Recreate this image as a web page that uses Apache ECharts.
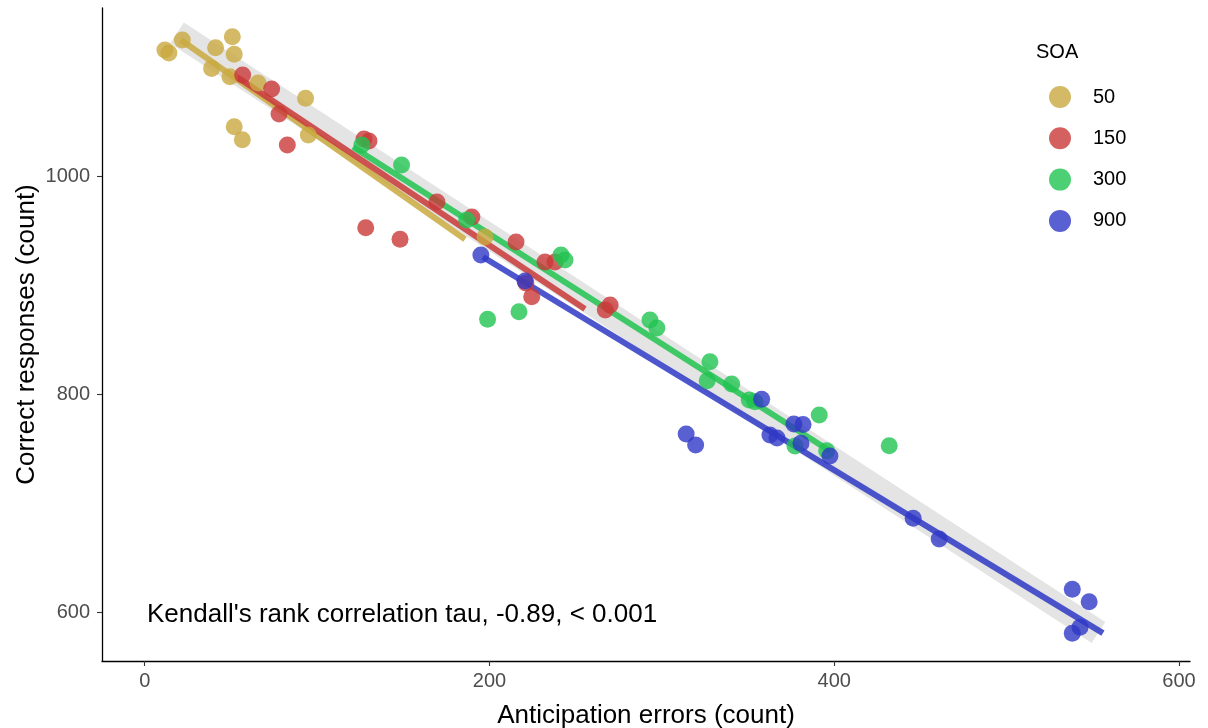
<!DOCTYPE html>
<html>
<head>
<meta charset="utf-8">
<script src="https://cdn.jsdelivr.net/npm/echarts@6/dist/echarts.min.js"></script>
<style>
  html, body { margin: 0; padding: 0; background: #ffffff; }
  #chart { width: 1208px; height: 728px; }
</style>
</head>
<body>
<div id="chart"></div>
<script>
// SOA groups and their colours
const soaLevels = ['50', '150', '300', '900'];
const soaColors = ['#C9A940', '#C93838', '#21C350', '#2F38C6'];

// Anticipation errors (x) and correct responses (y) per participant, by SOA
const errors50  = [11.7, 14.0, 21.8, 41.1, 50.8, 51.9, 38.8, 49.4, 65.7, 93.3, 51.9, 56.6, 94.9, 197.4];
const correct50 = [1116.2, 1113.5, 1125.4, 1118.3, 1128.4, 1112.3, 1099.4, 1091.7, 1086.0, 1071.9, 1045.9, 1033.9, 1038.3, 944.7];

const errors150  = [56.8, 73.6, 77.9, 82.7, 127.2, 130.1, 128.2, 148.1, 169.5, 189.8, 215.4, 232.2, 238.0, 221.1, 224.5, 267.2, 270.0];
const correct150 = [1093.3, 1080.5, 1057.5, 1029.1, 1034.6, 1032.8, 953.2, 942.6, 976.8, 963.0, 940.1, 921.7, 921.7, 902.5, 889.9, 877.7, 882.3];

const errors300  = [126.0, 149.0, 186.8, 241.5, 243.8, 198.9, 217.1, 293.1, 297.1, 327.9, 326.3, 340.5, 350.7, 354.0, 391.3, 377.2, 395.6, 431.9];
const correct300 = [1029.1, 1010.7, 960.3, 928.2, 923.6, 869.2, 876.1, 868.5, 861.2, 830.3, 812.8, 809.8, 795.1, 793.6, 781.4, 752.9, 748.6, 753.2];

const errors900  = [195.0, 220.6, 314.1, 319.6, 357.9, 376.6, 381.9, 362.7, 366.8, 380.7, 397.5, 445.8, 460.9, 538.1, 547.9, 542.6, 538.1];
const correct900 = [928.2, 904.3, 763.9, 753.9, 795.8, 773.1, 772.7, 763.0, 760.3, 755.4, 743.8, 686.6, 667.6, 621.5, 610.1, 586.6, 581.1];

// Linear fits per group (endpoints over each group's range)
const fitX50  = [21.0, 185.8];   const fitY50  = [1125.4, 942.6];
const fitX150 = [53.5, 255.4];   const fitY150 = [1091.5, 878.6];
const fitX300 = [120.8, 397.5];  const fitY300 = [1027.2, 748.3];
const fitX900 = [196.2, 555.9];  const fitY900 = [926.3, 581.3];

// Pooled fit, drawn as a wide grey band behind the group fits
const pooledX = [18.7, 553.3];
const pooledY = [1131.8, 581.8];

// Axis ticks
const xTicks = [0, 200, 400, 600];
const yTicks = [600, 800, 1000];

const statsLabel = "Kendall's rank correlation tau, -0.89, < 0.001";

const pts = [[errors50, correct50], [errors150, correct150], [errors300, correct300], [errors900, correct900]];
const fits = [[fitX50, fitY50], [fitX150, fitY150], [fitX300, fitY300], [fitX900, fitY900]];
const zip = (xs, ys) => xs.map((v, i) => [v, ys[i]]);

const series = [];
series.push({
  type: 'line', name: 'pooled', data: zip(pooledX, pooledY),
  symbol: 'none', silent: true, z: 1,
  lineStyle: { color: '#e4e4e4', width: 25, cap: 'butt' }
});
fits.forEach((f, i) => {
  series.push({
    type: 'line', name: 'fit' + soaLevels[i], data: zip(f[0], f[1]),
    symbol: 'none', silent: true, z: 2,
    lineStyle: { color: soaColors[i], width: 6, opacity: 0.85, cap: 'butt' }
  });
});
pts.forEach((p, i) => {
  series.push({
    type: 'scatter', name: soaLevels[i], data: zip(p[0], p[1]),
    symbol: 'circle', symbolSize: 17, z: 3,
    itemStyle: { color: soaColors[i], opacity: 0.8 }
  });
});

const font = 'Liberation Sans, Arial, sans-serif';
const plainNumber = v => String(v);
const chart = echarts.init(document.getElementById('chart'), null, { renderer: 'canvas' });
chart.setOption({
  animation: false,
  backgroundColor: '#ffffff',
  textStyle: { fontFamily: font },
  grid: { left: 102, right: 18, top: 8, bottom: 67, containLabel: false, outerBoundsMode: 'none' },
  xAxis: {
    type: 'value', min: -24.8, max: 606.4,
    name: 'Anticipation errors (count)', nameLocation: 'middle', nameGap: 42, nameMoveOverlap: false,
    nameTextStyle: { fontSize: 26, color: '#000', fontFamily: font },
    axisLine: { show: true, onZero: false, lineStyle: { color: '#000', width: 1.3 } },
    axisTick: { show: true, length: 5, lineStyle: { color: '#333', width: 1.1 }, customValues: xTicks },
    axisLabel: { fontSize: 20, color: '#4d4d4d', margin: 10, customValues: xTicks, fontFamily: font, formatter: plainNumber },
    splitLine: { show: false }
  },
  yAxis: {
    type: 'value', min: 555.7, max: 1154.8,
    name: 'Correct responses (count)', nameLocation: 'middle', nameGap: 62, nameMoveOverlap: false,
    nameTextStyle: { fontSize: 26, color: '#000', fontFamily: font },
    axisLine: { show: true, onZero: false, lineStyle: { color: '#000', width: 1.3 } },
    axisTick: { show: true, length: 5, lineStyle: { color: '#333', width: 1.1 }, customValues: yTicks },
    axisLabel: { fontSize: 20, color: '#4d4d4d', margin: 12, customValues: yTicks, fontFamily: font, formatter: plainNumber },
    splitLine: { show: false }
  },
  legend: {
    data: soaLevels, orient: 'vertical', left: 1044, top: 81, padding: 5,
    itemWidth: 22, itemHeight: 22, itemGap: 19.3,
    icon: 'circle',
    textStyle: { fontSize: 20, color: '#000', fontFamily: font, padding: [0, 0, 0, 17] },
    selectedMode: false
  },
  graphic: [
    { type: 'text', left: 1036, top: 42, style: { text: 'SOA', font: '20px ' + font, fill: '#000' } },
    { type: 'text', left: 147, top: 602, style: { text: statsLabel, font: '26px ' + font, fill: '#000' } }
  ],
  series: series
});
</script>
</body>
</html>
